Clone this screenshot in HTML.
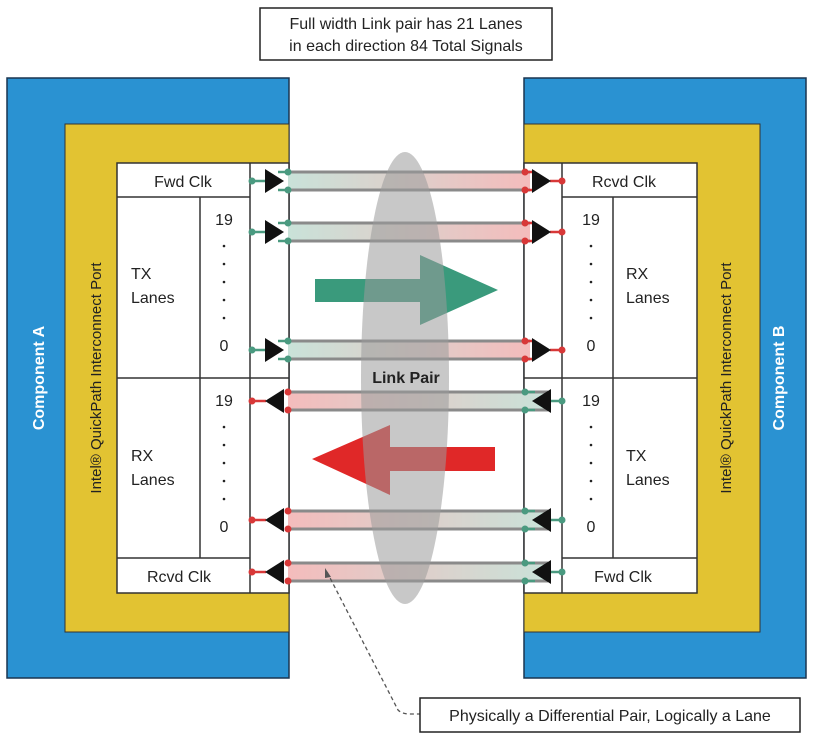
<!DOCTYPE html>
<html><head><meta charset="utf-8"><style>
body{margin:0;background:#fff}
svg{display:block}
text{font-family:"Liberation Sans",sans-serif}
</style></head><body>
<svg width="813" height="741" viewBox="0 0 813 741" xmlns="http://www.w3.org/2000/svg">
<defs>
<linearGradient id="gtx" x1="0" x2="1" y1="0" y2="0"><stop offset="0" stop-color="#c9e2d9"/><stop offset="1" stop-color="#f4bcbc"/></linearGradient>
<linearGradient id="grx" x1="0" x2="1" y1="0" y2="0"><stop offset="0" stop-color="#f4bcbc"/><stop offset="1" stop-color="#c9e2d9"/></linearGradient>
<g id="tx">
<rect x="288" y="0" width="242" height="18" fill="url(#gtx)"/>
<line x1="288" y1="0" x2="530" y2="0" stroke="#8a8a8a" stroke-width="3"/>
<line x1="288" y1="18" x2="530" y2="18" stroke="#8a8a8a" stroke-width="3"/>
<path d="M252 9H266M278 0H288M278 18H288" stroke="#4a9a80" stroke-width="2.5"/>
<polygon points="265,-3 265,21 284,9" fill="#111"/>
<circle cx="252" cy="9" r="3.5" fill="#4a9a80"/><circle cx="288" cy="0" r="3.5" fill="#4a9a80"/><circle cx="288" cy="18" r="3.5" fill="#4a9a80"/>
<path d="M550 9H562M525 0H535M525 18H535" stroke="#d83838" stroke-width="2.5"/>
<polygon points="532,-3 532,21 551,9" fill="#111"/>
<circle cx="562" cy="9" r="3.5" fill="#d83838"/><circle cx="525" cy="0" r="3.5" fill="#d83838"/><circle cx="525" cy="18" r="3.5" fill="#d83838"/>
</g>
<g id="rx">
<rect x="288" y="0" width="260" height="18" fill="url(#grx)"/>
<line x1="288" y1="0" x2="548" y2="0" stroke="#8a8a8a" stroke-width="3"/>
<line x1="288" y1="18" x2="548" y2="18" stroke="#8a8a8a" stroke-width="3"/>
<path d="M252 9H266" stroke="#d83838" stroke-width="2.5"/>
<polygon points="284,-3 284,21 265,9" fill="#111"/>
<circle cx="252" cy="9" r="3.5" fill="#d83838"/><circle cx="288" cy="0" r="3.5" fill="#d83838"/><circle cx="288" cy="18" r="3.5" fill="#d83838"/>
<path d="M550 9H562M525 0H535M525 18H535" stroke="#4a9a80" stroke-width="2.5"/>
<polygon points="551,-3 551,21 532,9" fill="#111"/>
<circle cx="562" cy="9" r="3.5" fill="#4a9a80"/><circle cx="525" cy="0" r="3.5" fill="#4a9a80"/><circle cx="525" cy="18" r="3.5" fill="#4a9a80"/>
</g>
</defs>

<!-- title -->
<rect x="260" y="8" width="292" height="52" fill="#fff" stroke="#222" stroke-width="1.5"/>
<text x="406" y="29" font-size="16" text-anchor="middle" fill="#222">Full width Link pair has 21 Lanes</text>
<text x="406" y="51" font-size="16" text-anchor="middle" fill="#222">in each direction 84 Total Signals</text>

<!-- left component -->
<rect x="7" y="78" width="282" height="600" fill="#2a92d2" stroke="#1a3550" stroke-width="1.5"/>
<rect x="65" y="124" width="224" height="508" fill="#e2c332" stroke="#333" stroke-width="1"/>
<rect x="117" y="163" width="172" height="430" fill="#fff" stroke="#333" stroke-width="1.5"/>
<path d="M117 197H250M117 378H289M117 558H250M250 163V593M200 197V558" stroke="#333" stroke-width="1.5" fill="none"/>
<!-- right component -->
<rect x="524" y="78" width="282" height="600" fill="#2a92d2" stroke="#1a3550" stroke-width="1.5"/>
<rect x="524" y="124" width="236" height="508" fill="#e2c332" stroke="#333" stroke-width="1"/>
<rect x="524" y="163" width="173" height="430" fill="#fff" stroke="#333" stroke-width="1.5"/>
<path d="M562 197H697M524 378H697M562 558H697M562 163V593M613 197V558" stroke="#333" stroke-width="1.5" fill="none"/>

<!-- side labels -->
<text transform="translate(44,378) rotate(-90)" font-size="16" font-weight="bold" fill="#fff" text-anchor="middle">Component A</text>
<text transform="translate(101,378) rotate(-90)" font-size="15" fill="#222" text-anchor="middle">Intel® QuickPath Interconnect Port</text>
<text transform="translate(784,378) rotate(-90)" font-size="16" font-weight="bold" fill="#fff" text-anchor="middle">Component B</text>
<text transform="translate(731,378) rotate(-90)" font-size="15" fill="#222" text-anchor="middle">Intel® QuickPath Interconnect Port</text>

<!-- table text left -->
<g font-size="16" fill="#222">
<text x="183" y="187" text-anchor="middle">Fwd Clk</text>
<text x="179" y="582" text-anchor="middle">Rcvd Clk</text>
<text x="131" y="279">TX</text><text x="131" y="303">Lanes</text>
<text x="131" y="461">RX</text><text x="131" y="485">Lanes</text>
<text x="224" y="225" text-anchor="middle">19</text>
<text x="224" y="351" text-anchor="middle">0</text>
<text x="224" y="406" text-anchor="middle">19</text>
<text x="224" y="532" text-anchor="middle">0</text>
<text x="624" y="187" text-anchor="middle">Rcvd Clk</text>
<text x="623" y="582" text-anchor="middle">Fwd Clk</text>
<text x="626" y="279">RX</text><text x="626" y="303">Lanes</text>
<text x="626" y="461">TX</text><text x="626" y="485">Lanes</text>
<text x="591" y="225" text-anchor="middle">19</text>
<text x="591" y="351" text-anchor="middle">0</text>
<text x="591" y="406" text-anchor="middle">19</text>
<text x="591" y="532" text-anchor="middle">0</text>
</g>
<g fill="#222">
<circle cx="224" cy="246" r="1.3"/><circle cx="224" cy="264" r="1.3"/><circle cx="224" cy="282" r="1.3"/><circle cx="224" cy="300" r="1.3"/><circle cx="224" cy="318" r="1.3"/>
<circle cx="224" cy="427" r="1.3"/><circle cx="224" cy="445" r="1.3"/><circle cx="224" cy="463" r="1.3"/><circle cx="224" cy="481" r="1.3"/><circle cx="224" cy="499" r="1.3"/>
<circle cx="591" cy="246" r="1.3"/><circle cx="591" cy="264" r="1.3"/><circle cx="591" cy="282" r="1.3"/><circle cx="591" cy="300" r="1.3"/><circle cx="591" cy="318" r="1.3"/>
<circle cx="591" cy="427" r="1.3"/><circle cx="591" cy="445" r="1.3"/><circle cx="591" cy="463" r="1.3"/><circle cx="591" cy="481" r="1.3"/><circle cx="591" cy="499" r="1.3"/>
</g>

<!-- lanes -->
<use href="#tx" transform="translate(0,172)"/>
<use href="#tx" transform="translate(0,223)"/>
<use href="#tx" transform="translate(0,341)"/>
<use href="#rx" transform="translate(0,392)"/>
<use href="#rx" transform="translate(0,511)"/>
<use href="#rx" transform="translate(0,563)"/>

<!-- arrows -->
<polygon points="315,279 420,279 420,255 498,290 420,325 420,302 315,302" fill="#3a9a7c"/>
<polygon points="495,447 390,447 390,425 312,459 390,495 390,471 495,471" fill="#e02828"/>

<!-- ellipse -->
<ellipse cx="405" cy="378" rx="44" ry="226" fill="#9a9a9a" opacity="0.55"/>
<text x="406" y="383" font-size="16" font-weight="bold" fill="#222" text-anchor="middle">Link Pair</text>

<!-- callout -->
<path d="M327 572 L398 710 Q402 714 410 714 H420" fill="none" stroke="#555" stroke-width="1.3" stroke-dasharray="4,3"/>
<polygon points="325,568 331,577 325,578" fill="#555"/>
<rect x="420" y="698" width="380" height="34" fill="#fff" stroke="#222" stroke-width="1.5"/>
<text x="610" y="721" font-size="16" text-anchor="middle" fill="#222">Physically a Differential Pair, Logically a Lane</text>
</svg>
</body></html>
